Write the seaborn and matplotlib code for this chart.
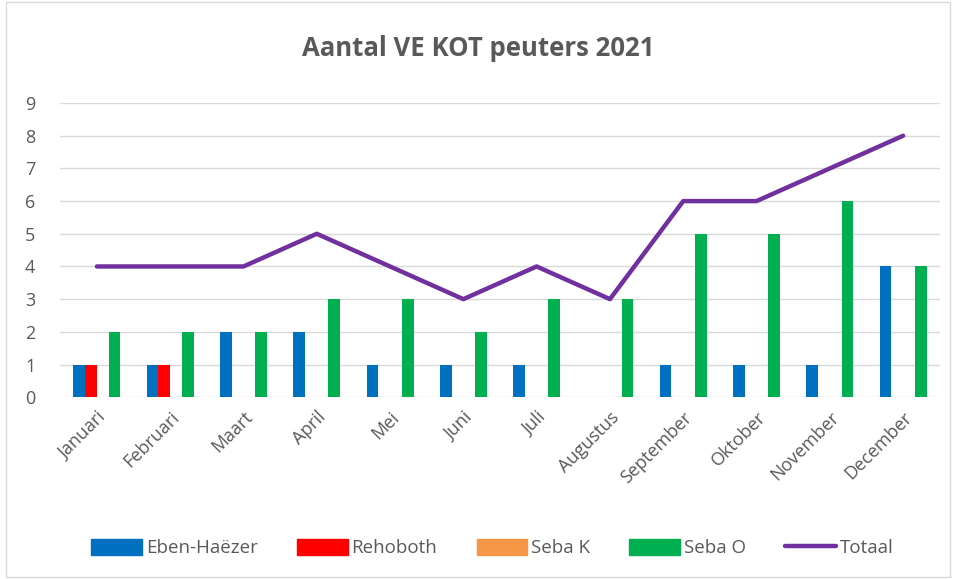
"""Aantal VE KOT peuters 2021"""

from matplotlib import pyplot as plt
from matplotlib.patches import Patch
from matplotlib.lines import Line2D
import seaborn as sns
import pandas as pd
import numpy as np

maanden = ['Januari', 'Februari', 'Maart', 'April', 'Mei', 'Juni', 'Juli',
           'Augustus', 'September', 'Oktober', 'November', 'December']
eben_haezer = [1, 1, 2, 2, 1, 1, 1, 0, 1, 1, 1, 4]
rehoboth = [1, 1, 0, 0, 0, 0, 0, 0, 0, 0, 0, 0]
seba_k = [0, 0, 0, 0, 0, 0, 0, 0, 0, 0, 0, 0]
seba_o = [2, 2, 2, 3, 3, 2, 3, 3, 5, 5, 6, 4]
totaal = [4, 4, 4, 5, 4, 3, 4, 3, 6, 6, 7, 8]

reeksen = ['Eben-Haëzer', 'Rehoboth', 'Seba K', 'Seba O']
kleuren = ['#0070C0', '#FF0000', '#F79646', '#00B050']

# lange tabel voor seaborn
df = pd.DataFrame({
    'maand': maanden * 4,
    'school': np.repeat(reeksen, 12),
    'aantal': eben_haezer + rehoboth + seba_k + seba_o,
})

sns.set_style('white')
plt.rcParams['font.family'] = ['Open Sans', 'DejaVu Sans']
tekst = '#595959'

fig = plt.figure(figsize=(9.56, 5.79), dpi=100)
ax = fig.add_axes([0.063, 0.314, 0.92, 0.508])

sns.barplot(data=df, x='maand', y='aantal', hue='school', order=maanden,
            hue_order=reeksen, palette=kleuren, width=0.64, saturation=1,
            linewidth=0, ax=ax, legend=False)
sns.lineplot(x=np.arange(12), y=totaal, color='#7030A0', linewidth=3.2,
             ax=ax, label='Totaal', legend=False)
ax.lines[-1].set_solid_capstyle('round')
ax.lines[-1].set_solid_joinstyle('round')

ax.set_ylim(0, 9)
ax.set_xlim(-0.5, 11.5)
ax.set_yticks(range(10))
ax.grid(axis='y', color='#D9D9D9', linewidth=1)
ax.set_axisbelow(True)
sns.despine(ax=ax, left=True, bottom=True)
ax.set_xlabel('')
ax.set_ylabel('')
ax.tick_params(axis='both', length=0, colors=tekst, labelsize=13)
ax.tick_params(axis='x', pad=8)
for lbl in ax.get_xticklabels():
    lbl.set_rotation(45)
    lbl.set_ha('right')
    lbl.set_rotation_mode('anchor')
ax.tick_params(axis='y', pad=18)

fig.suptitle('Aantal VE KOT peuters 2021', y=0.94, fontsize=18.5,
             fontweight='bold', color=tekst)

# legenda
handles = [Patch(color=c, label=r) for c, r in zip(kleuren, reeksen)]
handles.append(Line2D([], [], color='#7030A0', linewidth=3.2,
                      solid_capstyle='round', label='Totaal'))
fig.legend(handles=handles, loc='center', bbox_to_anchor=(0.515, 0.053),
           ncol=5, frameon=False, fontsize=13.5, labelcolor=tekst,
           handlelength=2.7, handleheight=0.9, handletextpad=0.2,
           columnspacing=2.1)

fig.patches.append(plt.Rectangle((0.006, 0.004), 0.988, 0.992,
                                 transform=fig.transFigure, fill=False,
                                 edgecolor='#D9D9D9', linewidth=1))

plt.savefig('out.png', dpi=100)
